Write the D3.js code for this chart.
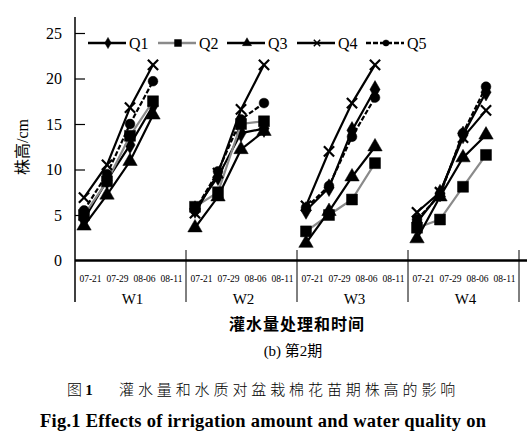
<!DOCTYPE html>
<html><head><meta charset="utf-8">
<script src="https://cdn.jsdelivr.net/npm/d3@7"></script>
<style>body{margin:0;background:#fff}svg{display:block}</style>
</head><body>
<svg id="c" width="527" height="431"></svg>
<script>
const groups = ["W1","W2","W3","W4"];
const dates = ["07-21","07-29","08-06","08-11"];
const seriesNames = ["Q1","Q2","Q3","Q4","Q5"];
const q1 = [[4.5,8.8,12.7,17.0],[5.6,9.2,14.0,14.5],[5.5,8.0,14.3,18.8],[4.2,7.4,13.8,18.5]];
const q2 = [[5.0,8.7,13.7,17.5],[5.9,7.5,15.0,15.3],[3.2,5.0,6.7,10.7],[3.6,4.5,8.1,11.6]];
const q3 = [[3.8,7.2,10.9,16.0],[3.6,7.0,12.2,14.2],[1.9,5.4,9.2,12.5],[2.4,7.0,11.3,13.8]];
const q4 = [[6.9,10.5,16.8,21.5],[5.2,9.6,16.6,21.5],[6.0,12.0,17.3,21.5],[5.3,7.5,13.5,16.5]];
const q5 = [[5.5,9.5,15.0,19.7],[5.5,9.8,15.5,17.3],[5.8,8.2,13.6,17.9],[4.5,7.2,14.0,19.1]];
const yTicks = [0,5,10,15,20,25];

const allSeries = [q1,q2,q3,q4,q5];
const styles = [
  {stroke:"#000", dash:null, sym:d3.symbolDiamond, size:90, fill:"#000"},
  {stroke:"#8a8a8a", dash:null, sym:d3.symbolSquare, size:120, fill:"#000"},
  {stroke:"#000", dash:null, sym:d3.symbolTriangle, size:90, fill:"#000"},
  {stroke:"#000", dash:null, sym:d3.symbolX, size:70, fill:"none"},
  {stroke:"#000", dash:"5,2", sym:d3.symbolCircle, size:75, fill:"#000"}
];
const serif = "'Liberation Serif','Times New Roman','Noto Sans CJK SC',serif";
const svg = d3.select("#c");

const y = d3.scaleLinear().domain([0,25]).range([260.5,33]);
const xg = d3.scaleBand().domain(groups).range([75,519]);
const xd = d3.scalePoint().domain(dates).range([9,78]);
const xl = d3.scaleBand().domain(dates).range([2,110]);

// y axis
const ya = svg.append("g").attr("transform","translate(75,0)")
  .call(d3.axisLeft(y).tickValues(yTicks).tickSize(-10).tickPadding(13));
ya.select(".domain").remove();
ya.selectAll(".tick line").attr("stroke","#000").attr("stroke-width",1.2)
  .filter(d=>d===0).remove();
ya.selectAll(".tick text").attr("font-family",serif).attr("font-size",16).attr("fill","#000");
svg.append("line").attr("x1",75).attr("x2",75).attr("y1",17).attr("y2",302)
  .attr("stroke","#000").attr("stroke-width",1.5);
svg.append("line").attr("x1",75).attr("x2",527).attr("y1",y(0)).attr("y2",y(0))
  .attr("stroke","#000").attr("stroke-width",2.5);

// separators and labels
groups.forEach((g,i)=>{
  const x1 = xg(g)+xg.bandwidth();
  svg.append("line").attr("x1",x1).attr("x2",x1).attr("y1",250).attr("y2",302)
    .attr("stroke","#000").attr("stroke-width",1);
  dates.forEach(d=>{
    svg.append("text").attr("x",xg(g)+xl(d)+xl.bandwidth()/2).attr("y",282)
      .attr("text-anchor","middle").attr("font-family",serif).attr("font-size",9.5)
      .text(d);
  });
  svg.append("text").attr("x",xg(g)+xg.bandwidth()/2+2).attr("y",304)
    .attr("text-anchor","middle").attr("font-family",serif).attr("font-size",15).text(g);
});

// series
const line = d3.line().x(d=>d.x).y(d=>d.y);
allSeries.forEach((s,si)=>{
  const st = styles[si];
  groups.forEach((g,gi)=>{
    const pts = s[gi].map((v,di)=>({x:xg(g)+xd(dates[di]), y:y(v)}));
    svg.append("path").attr("d",line(pts)).attr("fill","none")
      .attr("stroke",st.stroke).attr("stroke-width",2.2)
      .attr("stroke-dasharray",st.dash);
    pts.forEach(p=>{
      svg.append("path").attr("d",d3.symbol(st.sym,st.size)())
        .attr("transform",`translate(${p.x},${p.y})`)
        .attr("fill",st.fill).attr("stroke","#000").attr("stroke-width",st.fill==="none"?2.2:0.5);
    });
  });
});

// legend
const legX = [88,158,227,297,366];
seriesNames.forEach((n,i)=>{
  const st = styles[i];
  const lx = legX[i], ly = 43;
  svg.append("line").attr("x1",lx).attr("x2",lx+38).attr("y1",ly).attr("y2",ly)
    .attr("stroke",st.stroke).attr("stroke-width",2.5).attr("stroke-dasharray",st.dash);
  svg.append("path").attr("d",d3.symbol(st.sym,st.size*0.4)())
    .attr("transform",`translate(${lx+20},${ly})`)
    .attr("fill",st.fill).attr("stroke","#000").attr("stroke-width",st.fill==="none"?1.5:0.5);
  svg.append("text").attr("x",lx+41).attr("y",ly+6).attr("font-family",serif)
    .attr("font-size",16).text(n);
});

// y label
svg.append("text").attr("transform","translate(28,147) rotate(-90)")
  .attr("text-anchor","middle").attr("font-family",serif).attr("font-size",16).text("株高/cm");

// titles
svg.append("text").attr("x",297).attr("y",330).attr("text-anchor","middle")
  .attr("font-family","'Noto Sans CJK SC',sans-serif").attr("font-weight","bold")
  .attr("font-size",16).attr("letter-spacing",1).text("灌水量处理和时间");
svg.append("text").attr("x",293).attr("y",356).attr("text-anchor","middle")
  .attr("font-family",serif).attr("font-size",15).text("(b) 第2期");
const cap = svg.append("text").attr("x",67).attr("y",395)
  .attr("font-family","'Noto Sans CJK SC',sans-serif").attr("font-size",15).attr("font-weight",300);
cap.append("tspan").text("图 ");
cap.append("tspan").attr("font-family",serif).attr("font-weight","bold").text("1");
cap.append("tspan").attr("x",119).attr("letter-spacing",3.9).text("灌水量和水质对盆栽棉花苗期株高的影响");
svg.append("text").attr("x",40).attr("y",427).attr("font-family",serif).attr("font-weight","bold")
  .attr("font-size",18.5).attr("textLength",446).attr("lengthAdjust","spacing")
  .text("Fig.1 Effects of irrigation amount and water quality on");
</script>
</body></html>
